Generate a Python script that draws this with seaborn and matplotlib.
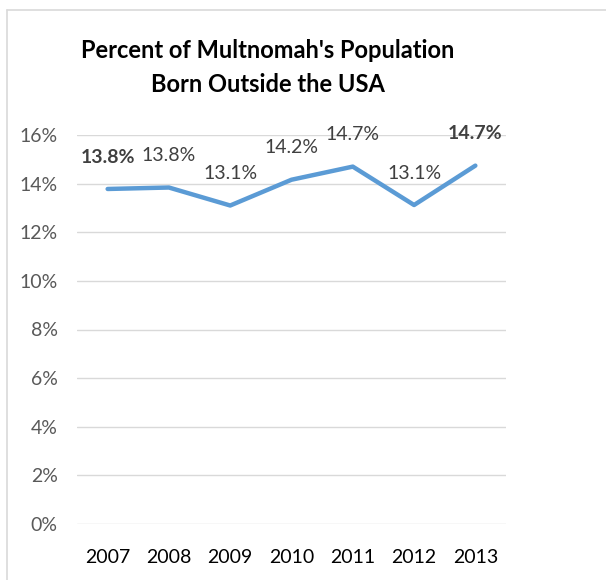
import matplotlib
matplotlib.use("Agg")
import matplotlib.pyplot as plt
import seaborn as sns
import pandas as pd
from matplotlib.lines import Line2D

years = ["2007", "2008", "2009", "2010", "2011", "2012", "2013"]
pct_foreign_born = [13.78, 13.84, 13.1, 14.16, 14.7, 13.12, 14.74]
point_labels = ["13.8%", "13.8%", "13.1%", "14.2%", "14.7%", "13.1%", "14.7%"]
bold_labels = [True, False, False, False, False, False, True]
y_ticks = [0, 2, 4, 6, 8, 10, 12, 14, 16]

df = pd.DataFrame({"year": years, "pct": pct_foreign_born})

sns.set_style("white")
plt.rcParams["font.family"] = ["Lato", "DejaVu Sans"]

W, H = 606, 580
fig = plt.figure(figsize=(W / 100, H / 100), dpi=100)
ax = fig.add_axes([77 / W, (H - 524) / H, (506 - 77) / W, (524 - 135) / H])

sns.lineplot(data=df, x="year", y="pct", ax=ax, color="#5B9BD5", linewidth=3.2,
             sort=False, solid_capstyle="round")

for i, (v, lab, b) in enumerate(zip(pct_foreign_born, point_labels, bold_labels)):
    ax.annotate(lab, (i, v), xytext=(0, 23), textcoords="offset points",
                ha="center", va="center", fontsize=14,
                color="#404040", fontweight="bold" if b else "normal")

ax.set_xlim(-0.5, 6.5)
ax.set_ylim(0, 16)
ax.set_yticks(y_ticks)
ax.set_yticklabels([f"{t}%" for t in y_ticks])
ax.grid(axis="y", color="#D9D9D9", linewidth=1)
ax.set_axisbelow(True)
for s in ax.spines.values():
    s.set_visible(False)
ax.tick_params(axis="y", length=0, pad=14, labelsize=14, labelcolor="#595959")
ax.tick_params(axis="x", length=0, pad=18, labelsize=14, labelcolor="#000000")
ax.set_xlabel("")
ax.set_ylabel("")

fig.text(268 / W, 1 - 50 / H, "Percent of Multnomah's Population", ha="center",
         va="center", fontsize=17, fontweight="bold", color="#000000")
fig.text(268 / W, 1 - 85 / H, "Born Outside the USA", ha="center",
         va="center", fontsize=17, fontweight="bold", color="#000000")

# chart frame (left and top edges visible)
fig.add_artist(Line2D([7 / W, 7 / W], [0, 1 - 10 / H], transform=fig.transFigure,
                      color="#D9D9D9", linewidth=1.2))
fig.add_artist(Line2D([7 / W, 1], [1 - 10 / H, 1 - 10 / H], transform=fig.transFigure,
                      color="#D9D9D9", linewidth=1.2))

fig.savefig("out.png", dpi=100, facecolor="white")
